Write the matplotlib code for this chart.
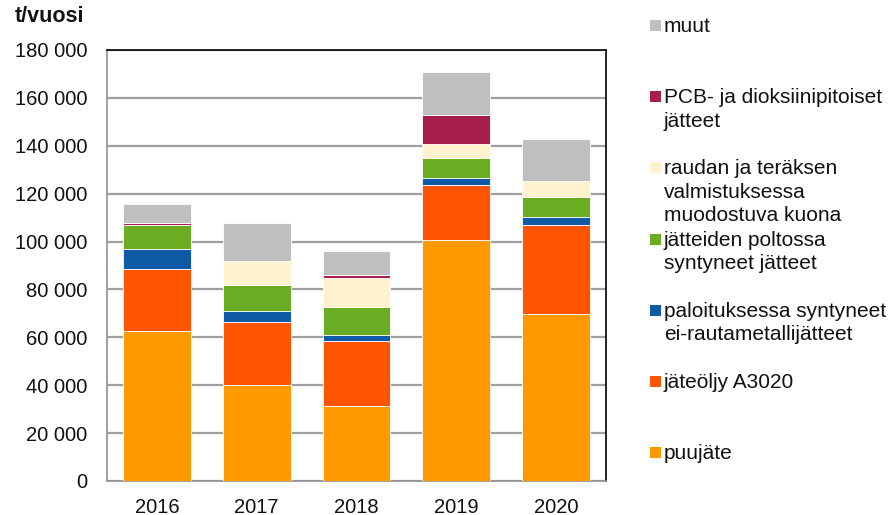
import matplotlib.pyplot as plt
import matplotlib.patches as mpatches
import matplotlib.ticker as mticker
import numpy as np

plt.rcParams['font.family'] = ['Liberation Sans', 'DejaVu Sans']

years = ['2016', '2017', '2018', '2019', '2020']

# t/vuosi (bottom to top)
puujate = [62500, 40200, 31500, 100800, 69700]
jateoljy = [26200, 26200, 26800, 23000, 37400]
paloitus = [8200, 4700, 2800, 2800, 3200]
poltto = [10200, 10900, 11600, 8100, 8200]
kuona = [0, 10000, 12000, 5900, 6700]
pcb = [700, 0, 1500, 12200, 0]
muut = [8000, 15600, 10000, 18200, 17500]

series = [
    ('puujäte', puujate, '#FF9900'),
    ('jäteöljy A3020', jateoljy, '#FF5500'),
    ('paloituksessa syntyneet\nei-rautametallijätteet', paloitus, '#0E5AA7'),
    ('jätteiden poltossa\nsyntyneet jätteet', poltto, '#6BAD22'),
    ('raudan ja teräksen\nvalmistuksessa\nmuodostuva kuona', kuona, '#FFF2CC'),
    ('PCB- ja dioksiinipitoiset\njätteet', pcb, '#A61F4F'),
    ('muut', muut, '#BFBFBF'),
]

fig = plt.figure(figsize=(8.96, 5.15), dpi=100)
ax = fig.add_axes([107 / 896, 1 - 481 / 515, 499 / 896, 431 / 515])

x = np.arange(len(years))
bottom = np.zeros(len(years))
for label, vals, color in series:
    vals = np.array(vals, dtype=float)
    ax.bar(x, vals, width=0.68, bottom=bottom, color=color,
           edgecolor='#ffffff', linewidth=0.6, zorder=3)
    bottom += vals

ax.set_xlim(-0.5, len(years) - 0.5)
ax.set_ylim(0, 180000)
ax.set_yticks(np.arange(0, 180001, 20000))
ax.yaxis.set_major_formatter(mticker.FuncFormatter(lambda v, p: f'{int(v):,}'.replace(',', ' ')))
ax.set_xticks(x)
ax.set_xticklabels(years)
ax.tick_params(axis='both', length=0, labelsize=14.5, colors='#111111')
ax.tick_params(axis='y', pad=14)
ax.tick_params(axis='x', pad=12)

ax.grid(axis='y', color='#a0a0a0', linewidth=1.6, zorder=0)
ax.set_axisbelow(True)
for side in ['left', 'bottom']:
    ax.spines[side].set_color('#909090')
    ax.spines[side].set_linewidth(1.2)
for side in ['top', 'right']:
    ax.spines[side].set_color('#000000')
    ax.spines[side].set_linewidth(1.2)

fig.text(15 / 896, 1 - 17 / 515, 't/vuosi', fontsize=15.5, fontweight='bold',
         va='center', ha='left', color='#111111')

# legend, top entry first, spaced evenly like the original
for i, (label, vals, color) in enumerate(reversed(series)):
    yc = 25 + i * 71.2
    fig.patches.append(mpatches.Rectangle((650 / 896, 1 - (yc + 6) / 515), 11 / 896, 11 / 515,
                                          transform=fig.transFigure, facecolor=color,
                                          edgecolor='none'))
    fig.text(664 / 896, 1 - (yc - 8) / 515, label, fontsize=15, va='top', ha='left',
             linespacing=1.3, color='#111111')

fig.savefig('out.png', dpi=100)
